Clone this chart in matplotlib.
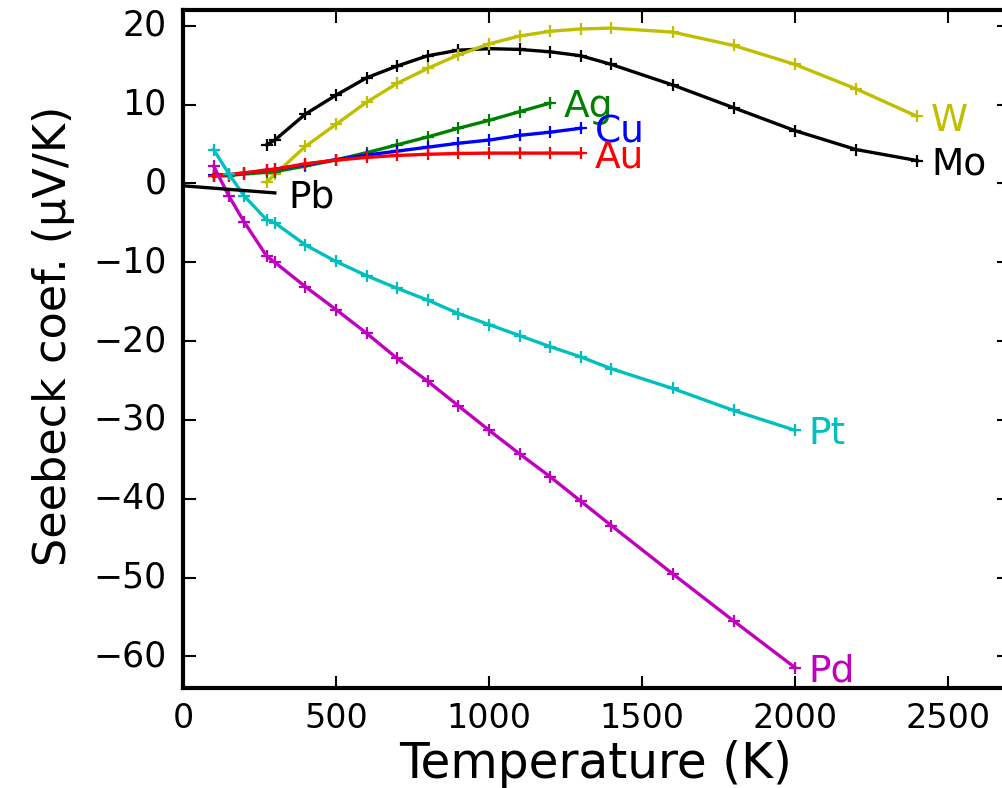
import matplotlib
matplotlib.use("Agg")
import matplotlib.pyplot as plt

# Seebeck coefficients of metals versus absolute temperature
T_low = [100, 150, 200, 273, 300, 400, 500, 600, 700, 800, 900, 1000, 1100, 1200, 1300]
T_hi = [273, 300, 400, 500, 600, 700, 800, 900, 1000, 1100, 1200, 1300, 1400,
        1600, 1800, 2000, 2200, 2400]
T_pt = [100, 150, 200, 273, 300, 400, 500, 600, 700, 800, 900, 1000, 1100, 1200,
        1300, 1400, 1600, 1800, 2000]
T_pb = [0, 300]

S_ag = [0.9, 1.0, 1.2, 1.4, 1.5, 2.2, 3.0, 3.9, 4.9, 5.9, 7.0, 8.0, 9.1, 10.2]
S_cu = [1.1, 1.1, 1.3, 1.7, 1.8, 2.4, 3.0, 3.6, 4.1, 4.6, 5.1, 5.5, 6.1, 6.5, 7.0]
S_au = [1.0, 1.1, 1.35, 1.65, 1.8, 2.5, 2.95, 3.3, 3.55, 3.7, 3.8, 3.85, 3.85, 3.85, 3.85]
S_mo = [4.9, 5.5, 8.8, 11.2, 13.4, 14.9, 16.2, 16.9, 17.1, 17.0, 16.7, 16.2, 15.1,
        12.5, 9.6, 6.7, 4.3, 2.9]
S_w = [0.15, 1.15, 4.7, 7.5, 10.3, 12.7, 14.6, 16.3, 17.7, 18.7, 19.3, 19.6, 19.7,
       19.2, 17.5, 15.1, 12.0, 8.5]
S_pt = [4.3, 1.2, -1.6, -4.6, -5.0, -7.8, -9.9, -11.7, -13.3, -14.8, -16.5, -17.9,
        -19.3, -20.7, -22.0, -23.5, -26.0, -28.8, -31.3]
S_pd = [2.2, -1.6, -4.9, -9.2, -10.0, -13.1, -16.0, -19.0, -22.2, -25.1, -28.2, -31.3,
        -34.3, -37.2, -40.3, -43.4, -49.5, -55.5, -61.4]
S_pb = [-0.3, -1.2]

series = [
    ("Mo", T_hi, S_mo, "k", True),
    ("W", T_hi, S_w, "y", True),
    ("Ag", T_low[:14], S_ag, "g", True),
    ("Cu", T_low, S_cu, "b", True),
    ("Au", T_low, S_au, "r", True),
    ("Pt", T_pt, S_pt, "c", True),
    ("Pd", T_pt, S_pd, "m", True),
    ("Pb", T_pb, S_pb, "k", False),
]

plt.style.use("classic")
fig = plt.figure(figsize=(10.03, 7.88), dpi=100)
ax = fig.add_axes([0.1825, 0.1269, 0.8235, 0.8604])

for name, t, s, color, marked in series:
    ax.plot(t, s, color=color, lw=2.4,
            marker="+" if marked else None, ms=9, mew=1.6)
    ax.annotate(name, xy=(t[-1], s[-1]), xytext=(10, -3), textcoords="offset points",
                color=color, fontsize=27, va="center", ha="left")

ax.set_xlim(0, 2700)
ax.set_ylim(-64, 22)
ax.set_xticks([0, 500, 1000, 1500, 2000, 2500])
ax.set_yticks([-60, -50, -40, -30, -20, -10, 0, 10, 20])

for sp in ax.spines.values():
    sp.set_linewidth(3)
ax.tick_params(direction="in", length=9, width=1.5, top=True, right=True)
ax.tick_params(axis="x", labelsize=24, pad=10)
ax.tick_params(axis="y", labelsize=25, pad=12)

ax.set_xlabel("Temperature (K)", fontsize=35)
ax.set_ylabel("Seebeck coef. (µV/K)", fontsize=32)
ax.xaxis.set_label_coords(0.5, -0.076)
ax.yaxis.set_label_coords(-0.131, 0.519)

fig.savefig("out.png", dpi=100)
